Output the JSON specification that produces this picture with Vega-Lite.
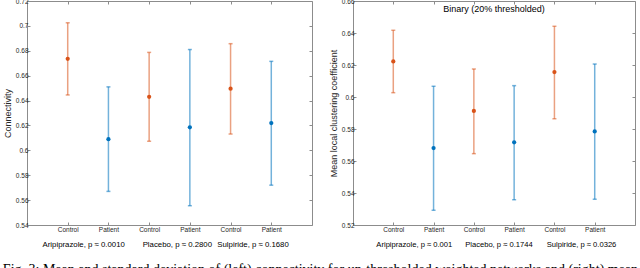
{
  "$schema": "https://vega.github.io/schema/vega-lite/v6.json",
  "padding": {"left": 2, "top": -3, "right": 2, "bottom": 0},
  "background": "white",
  "datasets": {
    "left": [
      {"x": 1, "group": "Control", "drug": "Aripiprazole", "mean": 0.6735, "lo": 0.6445, "hi": 0.7025},
      {"x": 2, "group": "Patient", "drug": "Aripiprazole", "mean": 0.609, "lo": 0.567, "hi": 0.651},
      {"x": 3, "group": "Control", "drug": "Placebo", "mean": 0.643, "lo": 0.6073, "hi": 0.6787},
      {"x": 4, "group": "Patient", "drug": "Placebo", "mean": 0.6185, "lo": 0.5555, "hi": 0.681},
      {"x": 5, "group": "Control", "drug": "Sulpiride", "mean": 0.6495, "lo": 0.6131, "hi": 0.6857},
      {"x": 6, "group": "Patient", "drug": "Sulpiride", "mean": 0.6219, "lo": 0.572, "hi": 0.6715}
    ],
    "right": [
      {"x": 1, "group": "Control", "drug": "Aripiprazole", "mean": 0.6222, "lo": 0.6027, "hi": 0.6417},
      {"x": 2, "group": "Patient", "drug": "Aripiprazole", "mean": 0.5681, "lo": 0.5292, "hi": 0.6067},
      {"x": 3, "group": "Control", "drug": "Placebo", "mean": 0.5913, "lo": 0.5646, "hi": 0.6175},
      {"x": 4, "group": "Patient", "drug": "Placebo", "mean": 0.5717, "lo": 0.5358, "hi": 0.6071},
      {"x": 5, "group": "Control", "drug": "Sulpiride", "mean": 0.6156, "lo": 0.5864, "hi": 0.6442},
      {"x": 6, "group": "Patient", "drug": "Sulpiride", "mean": 0.5785, "lo": 0.5361, "hi": 0.6206}
    ],
    "leftLabels": [
      {"gx": 1.38, "label": "Aripiprazole, p ≈ 0.0010"},
      {"gx": 3.68, "label": "Placebo, p ≈ 0.2800"},
      {"gx": 5.54, "label": "Sulpiride, p ≈ 0.1680"}
    ],
    "rightLabels": [
      {"gx": 1.51, "label": "Aripiprazole, p ≈ 0.001"},
      {"gx": 3.61, "label": "Placebo, p ≈ 0.1744"},
      {"gx": 5.66, "label": "Sulpiride, p ≈ 0.0326"}
    ]
  },
  "title": {
    "text": "Fig. 3: Mean and standard deviation of (left) connectivity for un-thresholded weighted networks and (right) mean local clustering coefficient for binary networks",
    "orient": "bottom",
    "anchor": "start",
    "font": "Liberation Serif",
    "fontSize": 14,
    "fontWeight": "normal",
    "color": "#000000",
    "offset": 15
  },
  "hconcat": [
    {
      "width": 285,
      "height": 224,
      "data": {"name": "left"},
      "layer": [
        {
          "mark": {"type": "rule", "strokeWidth": 1.5, "opacity": 0.55},
          "encoding": {
            "x": {"field": "x", "type": "quantitative", "scale": {"domain": [0, 7], "nice": false, "zero": false},
              "axis": {"orient": "bottom", "values": [1, 2, 3, 4, 5, 6], "labelExpr": "datum.value % 2 == 1 ? 'Control' : 'Patient'", "title": null, "grid": false, "domain": false, "tickSize": -3, "labelPadding": 4}},
            "y": {"field": "lo", "type": "quantitative", "scale": {"domain": [0.54, 0.72], "nice": false, "zero": false},
              "axis": {"orient": "left", "values": [0.54, 0.56, 0.58, 0.6, 0.62, 0.64, 0.66, 0.68, 0.7, 0.72], "labelExpr": "'' + round(datum.value * 100) / 100", "title": "Connectivity", "grid": false, "domain": false, "tickSize": -3, "labelPadding": 2, "titlePadding": 3}},
            "y2": {"field": "hi"},
            "color": {"field": "group", "type": "nominal", "scale": {"domain": ["Control", "Patient"], "range": ["#D95319", "#0072BD"]}, "legend": null}
          }
        },
        {
          "mark": {"type": "tick", "orient": "horizontal", "size": 4, "thickness": 1.5, "opacity": 0.55},
          "encoding": {
            "x": {"field": "x", "type": "quantitative", "axis": null},
            "y": {"field": "lo", "type": "quantitative", "axis": null},
            "color": {"field": "group", "type": "nominal", "legend": null}
          }
        },
        {
          "mark": {"type": "tick", "orient": "horizontal", "size": 4, "thickness": 1.5, "opacity": 0.55},
          "encoding": {
            "x": {"field": "x", "type": "quantitative", "axis": null},
            "y": {"field": "hi", "type": "quantitative", "axis": null},
            "color": {"field": "group", "type": "nominal", "legend": null}
          }
        },
        {
          "mark": {"type": "circle", "size": 18, "opacity": 1},
          "encoding": {
            "x": {"field": "x", "type": "quantitative", "axis": null},
            "y": {"field": "mean", "type": "quantitative", "axis": null},
            "color": {"field": "group", "type": "nominal", "legend": null}
          }
        },
        {
          "data": {"name": "leftLabels"},
          "mark": {"type": "point", "opacity": 0},
          "encoding": {
            "x": {"field": "gx", "type": "quantitative",
              "axis": {"orient": "bottom", "offset": 13, "values": [1.38, 3.68, 5.54], "labelExpr": "datum.value < 2 ? 'Aripiprazole, p ≈ 0.0010' : datum.value < 4 ? 'Placebo, p ≈ 0.2800' : 'Sulpiride, p ≈ 0.1680'", "title": null, "grid": false, "domain": false, "ticks": false, "labelPadding": 2, "labelFontSize": 7.8, "labelOverlap": false, "labelColor": "#000000"}}
          }
        },
        {
          "data": {"name": "leftLabels"},
          "mark": {"type": "point", "opacity": 0},
          "encoding": {
            "x": {"field": "gx", "type": "quantitative",
              "axis": {"orient": "top", "values": [1, 2, 3, 4, 5, 6], "labels": false, "title": null, "grid": false, "domain": false, "tickSize": -3}},
            "y": {"datum": 0.6, "type": "quantitative",
              "axis": {"orient": "right", "values": [0.54, 0.56, 0.58, 0.6, 0.62, 0.64, 0.66, 0.68, 0.7, 0.72], "labels": false, "title": null, "grid": false, "domain": false, "tickSize": -3}}
          }
        }
      ],
      "resolve": {"axis": {"x": "independent", "y": "independent"}}
    },
    {
      "width": 282,
      "height": 224,
      "data": {"name": "right"},
      "title": {"text": "Binary (20% thresholded)", "anchor": "middle", "offset": -16, "fontSize": 9, "fontWeight": "normal", "font": "Liberation Sans", "color": "#000000"},
      "layer": [
        {
          "mark": {"type": "rule", "strokeWidth": 1.5, "opacity": 0.55},
          "encoding": {
            "x": {"field": "x", "type": "quantitative", "scale": {"domain": [0, 7], "nice": false, "zero": false},
              "axis": {"orient": "bottom", "values": [1, 2, 3, 4, 5, 6], "labelExpr": "datum.value % 2 == 1 ? 'Control' : 'Patient'", "title": null, "grid": false, "domain": false, "tickSize": -3, "labelPadding": 4}},
            "y": {"field": "lo", "type": "quantitative", "scale": {"domain": [0.52, 0.66], "nice": false, "zero": false},
              "axis": {"orient": "left", "values": [0.52, 0.54, 0.56, 0.58, 0.6, 0.62, 0.64, 0.66], "labelExpr": "'' + round(datum.value * 100) / 100", "title": "Mean local clustering coefficient", "grid": false, "domain": false, "tickSize": -3, "labelPadding": 2, "titlePadding": 3}},
            "y2": {"field": "hi"},
            "color": {"field": "group", "type": "nominal", "scale": {"domain": ["Control", "Patient"], "range": ["#D95319", "#0072BD"]}, "legend": null}
          }
        },
        {
          "mark": {"type": "tick", "orient": "horizontal", "size": 4, "thickness": 1.5, "opacity": 0.55},
          "encoding": {
            "x": {"field": "x", "type": "quantitative", "axis": null},
            "y": {"field": "lo", "type": "quantitative", "axis": null},
            "color": {"field": "group", "type": "nominal", "legend": null}
          }
        },
        {
          "mark": {"type": "tick", "orient": "horizontal", "size": 4, "thickness": 1.5, "opacity": 0.55},
          "encoding": {
            "x": {"field": "x", "type": "quantitative", "axis": null},
            "y": {"field": "hi", "type": "quantitative", "axis": null},
            "color": {"field": "group", "type": "nominal", "legend": null}
          }
        },
        {
          "mark": {"type": "circle", "size": 18, "opacity": 1},
          "encoding": {
            "x": {"field": "x", "type": "quantitative", "axis": null},
            "y": {"field": "mean", "type": "quantitative", "axis": null},
            "color": {"field": "group", "type": "nominal", "legend": null}
          }
        },
        {
          "data": {"name": "rightLabels"},
          "mark": {"type": "point", "opacity": 0},
          "encoding": {
            "x": {"field": "gx", "type": "quantitative",
              "axis": {"orient": "bottom", "offset": 13, "values": [1.51, 3.61, 5.66], "labelExpr": "datum.value < 2 ? 'Aripiprazole, p ≈ 0.001' : datum.value < 4 ? 'Placebo, p ≈ 0.1744' : 'Sulpiride, p ≈ 0.0326'", "title": null, "grid": false, "domain": false, "ticks": false, "labelPadding": 2, "labelFontSize": 7.6, "labelOverlap": false, "labelColor": "#000000"}}
          }
        },
        {
          "data": {"name": "rightLabels"},
          "mark": {"type": "point", "opacity": 0},
          "encoding": {
            "x": {"field": "gx", "type": "quantitative",
              "axis": {"orient": "top", "values": [1, 2, 3, 4, 5, 6], "labels": false, "title": null, "grid": false, "domain": false, "tickSize": -3}},
            "y": {"datum": 0.6, "type": "quantitative",
              "axis": {"orient": "right", "values": [0.52, 0.54, 0.56, 0.58, 0.6, 0.62, 0.64, 0.66], "labels": false, "title": null, "grid": false, "domain": false, "tickSize": -3}}
          }
        }
      ],
      "resolve": {"axis": {"x": "independent", "y": "independent"}}
    }
  ],
  "spacing": 41,
  "bounds": "flush",
  "config": {
    "font": "Liberation Sans",
    "view": {"stroke": "#8c8c8c", "strokeWidth": 1},
    "axis": {
      "labelFont": "Liberation Sans",
      "labelFontSize": 6.5,
      "labelColor": "#262626",
      "tickColor": "#8c8c8c",
      "tickWidth": 1,
      "titleFont": "Liberation Sans",
      "titleFontSize": 9,
      "titleFontWeight": "normal",
      "titleColor": "#262626"
    }
  }
}
